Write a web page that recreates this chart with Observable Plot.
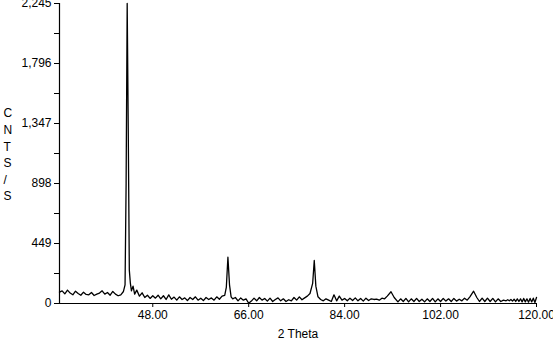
<!DOCTYPE html>
<html>
<head>
<meta charset="utf-8">
<script src="https://cdn.jsdelivr.net/npm/d3@7"></script>
<script src="https://cdn.jsdelivr.net/npm/@observablehq/plot@0.6"></script>
<style>
  body { margin: 0; background: #fff; }
  #chart svg { overflow: visible; font-family: "Liberation Sans", Arial, sans-serif; }
</style>
</head>
<body>
<div id="chart"></div>
<script>
const theta = [30.5,31.0,31.5,32.0,32.5,33.0,33.5,34.0,34.5,35.0,35.5,36.0,36.5,37.0,37.5,38.0,38.5,39.0,39.5,40.0,40.5,41.0,41.5,42.0,42.5,42.8,43.0,43.2,43.4,43.6,43.8,44.0,44.3,44.6,45.0,45.5,46.0,46.5,47.0,47.5,48.0,48.5,49.0,49.5,50.0,50.5,51.0,51.5,52.0,52.5,53.0,53.5,54.0,54.5,55.0,55.5,56.0,56.5,57.0,57.5,58.0,58.5,59.0,59.5,60.0,60.5,61.0,61.5,61.8,62.1,62.4,62.7,63.0,63.5,64.0,64.5,65.0,65.5,66.0,66.5,67.0,67.5,68.0,68.5,69.0,69.5,70.0,70.5,71.0,71.5,72.0,72.5,73.0,73.5,74.0,74.5,75.0,75.5,76.0,76.5,77.0,77.5,78.0,78.3,78.6,79.0,79.5,80.0,80.5,81.0,81.5,82.0,82.5,83.0,83.5,84.0,84.5,85.0,85.5,86.0,86.5,87.0,87.5,88.0,88.5,89.0,89.5,90.0,90.5,91.0,91.5,92.0,92.7,93.3,94.0,94.5,95.0,95.5,96.0,96.5,97.0,97.5,98.0,98.5,99.0,99.5,100.0,100.5,101.0,101.5,102.0,102.5,103.0,103.5,104.0,104.5,105.0,105.5,106.0,106.5,107.0,107.5,108.2,108.8,109.3,109.8,110.3,110.8,111.3,111.8,112.3,112.8,113.3,113.8,114.3,114.6,114.9,115.2,115.5,115.8,116.1,116.4,116.7,117.0,117.3,117.6,117.9,118.2,118.5,118.8,119.1,119.4,119.7,120.0];
const cnts = [85,95,72,100,78,65,92,75,62,85,68,65,82,60,70,78,95,70,82,62,90,70,58,65,90,140,900,2245,1300,250,150,95,130,70,100,55,80,45,62,38,58,40,62,35,58,30,65,32,48,25,50,30,42,22,45,30,50,25,40,22,45,30,42,25,50,32,55,60,120,346,140,50,35,45,20,42,25,35,2,18,40,20,45,25,38,18,40,15,30,42,20,35,15,28,20,45,25,50,28,42,55,75,150,322,130,50,30,20,35,25,15,65,20,55,25,38,20,40,22,42,20,38,18,40,22,35,30,32,25,40,35,55,88,45,12,35,15,38,12,35,15,38,15,32,12,35,15,38,12,35,15,38,18,35,15,38,18,32,20,40,25,50,92,45,15,40,15,40,15,38,12,35,15,25,20,28,20,30,18,32,15,35,15,35,12,38,12,35,10,38,12,40,8,45];
const yMajor = [0, 449, 898, 1347, 1796, 2245];
const yMinor = [224.5, 673.5, 1122.5, 1571.5, 2020.5];
const xTicks = [48, 66, 84, 102, 120];
const xLabel = "2 Theta";
const yLabel = "C\nN\nT\nS\n/\nS";

const data = theta.map((t, i) => ({theta: t, cnts: cnts[i]}));

const chart = Plot.plot({
  width: 553,
  height: 340,
  marginLeft: 59,
  marginRight: 17,
  marginTop: 3,
  marginBottom: 37,
  style: {fontSize: "12px", color: "#000", background: "#fff"},
  x: {domain: [30.5, 120]},
  y: {domain: [0, 2245]},
  marks: [
    Plot.axisY({ticks: yMajor, tickFormat: d3.format(","), tickSize: 5, tickPadding: 3, label: null, fontSize: 12}),
    Plot.axisY({ticks: yMinor, tickFormat: () => "", tickSize: 5, label: null}),
    Plot.axisX({ticks: xTicks, tickFormat: d3.format(".2f"), tickSize: 4, tickPadding: 3, label: xLabel, labelAnchor: "center", labelArrow: "none", labelOffset: 34, fontSize: 12}),
    Plot.ruleY([0], {strokeWidth: 1.2}),
    Plot.ruleX([30.5], {strokeWidth: 1.2}),
    Plot.line(data, {x: "theta", y: "cnts", stroke: "#000", strokeWidth: 1.3}),
    Plot.text([yLabel], {frameAnchor: "left", dx: -56, textAnchor: "start", lineHeight: 1.38, fontSize: 12})
  ]
});
document.getElementById("chart").appendChild(chart);
</script>
</body>
</html>
